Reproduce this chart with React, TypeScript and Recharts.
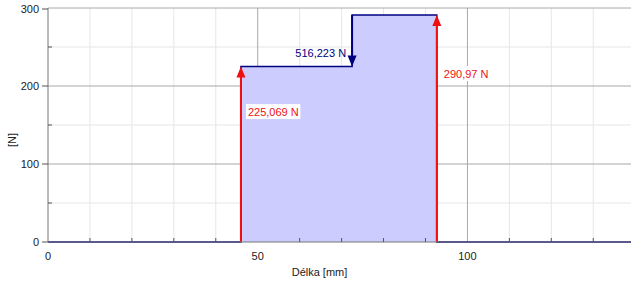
import {
  Area,
  CartesianGrid,
  ComposedChart,
  ReferenceLine,
  XAxis,
  YAxis,
} from "recharts";

// shear force along the beam
const positions = [0, 46, 72.5, 92.7, 139];
const shear = [0, 225.069, 290.97, 0, 0];

const supportA = { x: 46, force: 225.069, label: "225,069 N" };
const supportB = { x: 92.7, force: 290.97, label: "290,97 N" };
const load = { x: 72.5, from: 290.97, to: 225.069, label: "516,223 N" };

const xTicks = [0, 10, 20, 30, 40, 50, 60, 70, 80, 90, 100, 110, 120, 130];
const yTicks = [0, 50, 100, 150, 200, 250, 300];
const xMajor = [50, 100];
const yMajor = [100, 200, 300];

const data = positions.map((x, i) => ({ x, v: shear[i] }));

const FONT = "'Liberation Sans', Arial, sans-serif";
const RED = "#ee1111";
const NAVY = "#000080";

function XTick(props: any) {
  const { x, y, payload } = props;
  const v = payload.value;
  return (
    <g>
      {v % 50 === 0 ? (
        <text x={x} y={y + 18} textAnchor="middle" fontSize={11} fontFamily={FONT} fill="#222">
          {v}
        </text>
      ) : (
        <line x1={x} x2={x} y1={y - 4} y2={y} stroke="#555" />
      )}
    </g>
  );
}

function YTick(props: any) {
  const { x, y, payload } = props;
  const v = payload.value;
  return v % 100 === 0 ? (
    <g>
      <line x1={x - 6} x2={x} y1={y} y2={y} stroke="#555" />
      <text x={x - 9} y={y + 4} textAnchor="end" fontSize={11} fontFamily={FONT} fill="#222">
        {v}
      </text>
    </g>
  ) : (
    <line x1={x} x2={x + 4} y1={y} y2={y} stroke="#555" />
  );
}

function upArrow(label: string) {
  return (p: any) => {
    const x = p.x1;
    const top = Math.min(p.y1, p.y2);
    const bottom = Math.max(p.y1, p.y2);
    const ly = top + (bottom - top) * 0.26;
    const w = label.length * 5.6 + 4;
    return (
      <g>
        <line x1={x} x2={x} y1={bottom} y2={top + 6} stroke={RED} strokeWidth={2} />
        <polygon points={`${x},${top} ${x - 4.5},${top + 11} ${x + 4.5},${top + 11}`} fill={RED} />
        <rect x={x + 5} y={ly - 8} width={w} height={15} fill="#fff" />
        <text x={x + 7} y={ly + 4} fontSize={11} fontFamily={FONT} fill={RED}>
          {label}
        </text>
      </g>
    );
  };
}

function downArrow(label: string) {
  return (p: any) => {
    const x = p.x1;
    const top = Math.min(p.y1, p.y2);
    const bottom = Math.max(p.y1, p.y2);
    return (
      <g>
        <line x1={x} x2={x} y1={top} y2={bottom - 6} stroke={NAVY} strokeWidth={2} />
        <polygon points={`${x},${bottom} ${x - 4.5},${bottom - 11} ${x + 4.5},${bottom - 11}`} fill={NAVY} />
        <text x={x - 6} y={bottom - 9} textAnchor="end" fontSize={11} fontFamily={FONT} fill={NAVY}>
          {label}
        </text>
      </g>
    );
  };
}

export default function App() {
  return (
    <div style={{ position: "fixed", left: 0, top: 0, width: 638, height: 286, background: "#fff" }}>
      <ComposedChart
        width={638}
        height={286}
        data={data}
        margin={{ top: 8, right: 7, left: 0, bottom: 0 }}
      >
        <CartesianGrid
          stroke="#e6e6e6"
          verticalValues={xTicks.filter((t) => t % 50 !== 0)}
          horizontalValues={yTicks.filter((t) => t % 100 !== 0)}
        />
        <CartesianGrid stroke="#a8a8a8" verticalValues={xMajor} horizontalValues={yMajor} />
        <XAxis
          dataKey="x"
          type="number"
          domain={[0, 139]}
          ticks={xTicks}
          height={44}
          tickSize={0}
          tickMargin={0}
          tickLine={false}
          stroke="#777"
          tick={<XTick />}
          label={{
            value: "Délka [mm]",
            position: "insideBottom",
            offset: 10,
            dx: -20,
            fontSize: 11,
            fontFamily: FONT,
            fill: "#222",
          }}
        />
        <YAxis
          type="number"
          domain={[0, 300]}
          ticks={yTicks}
          width={48}
          tickSize={0}
          tickMargin={0}
          tickLine={false}
          stroke="#777"
          tick={<YTick />}
          label={{
            value: "[N]",
            angle: -90,
            position: "insideLeft",
            offset: 12,
            dy: 22,
            fontSize: 11,
            fontFamily: FONT,
            fill: "#222",
          }}
        />
        <Area
          type="stepAfter"
          dataKey="v"
          stroke={NAVY}
          strokeWidth={1.5}
          fill="#ccccff"
          fillOpacity={1}
          isAnimationActive={false}
        />
        <ReferenceLine
          segment={[
            { x: supportA.x, y: 0 },
            { x: supportA.x, y: supportA.force },
          ]}
          shape={upArrow(supportA.label)}
        />
        <ReferenceLine
          segment={[
            { x: supportB.x, y: 0 },
            { x: supportB.x, y: supportB.force },
          ]}
          shape={upArrow(supportB.label)}
        />
        <ReferenceLine
          segment={[
            { x: load.x, y: load.from },
            { x: load.x, y: load.to },
          ]}
          shape={downArrow(load.label)}
        />
      </ComposedChart>
    </div>
  );
}
